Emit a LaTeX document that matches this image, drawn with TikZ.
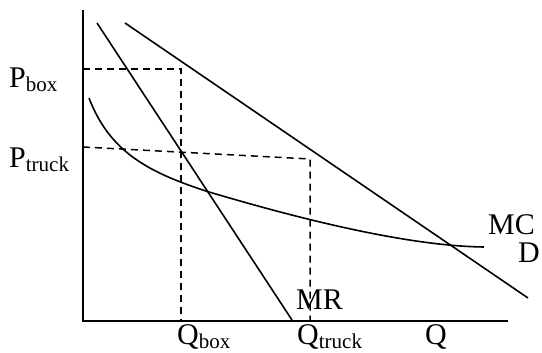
\documentclass[tikz,border=0pt]{standalone}
\usepackage{fontspec}
\setmainfont{Liberation Serif}
\usetikzlibrary{positioning}

\newcommand{\sublbl}[2]{#1\raisebox{-4pt}{\fontsize{21}{23}\selectfont #2}}

\begin{document}
\begin{tikzpicture}[x=1pt,y=1pt,
    curve/.style={line width=1.6pt},
    guide/.style={line width=1.5pt, dash pattern=on 7pt off 5pt},
    lbl/.style={inner sep=0pt, font=\fontsize{30}{33}\selectfont}]
        \useasboundingbox (0,0) rectangle (542,353);
        
        % axes
        \coordinate (top) at (83,343);
        \coordinate (o) at (83,32);
        \coordinate (right) at (508,32);
        \draw[curve] (top) -- (o) -- (right);
        
        % demand and marginal revenue
        \coordinate (mr1) at (97,330);
        \coordinate (mr2) at (292,33);
        \coordinate (d1) at (125,330);
        \coordinate (d2) at (528,55);
        \draw[curve] (mr1) -- (mr2);
        \draw[curve] (d1) -- (d2);
        
        % marginal cost
        \coordinate (mc1) at (89,255);
        \coordinate (mc2) at (209,161);
        \coordinate (mc3) at (484,106);
        \draw[curve] (mc1) .. controls (110,200) and (150,180) .. (mc2)
            .. controls (280,140) and (400,107) .. (mc3);
        
        % box and truck levels
        \coordinate (pb) at (83,284);
        \coordinate (qb) at (181,284);
        \coordinate (qbx) at (181,32);
        \coordinate (pt) at (83,206);
        \coordinate (qt) at (310,194);
        \coordinate (qtx) at (310,32);
        \draw[guide] (pb) -- (qb) -- (qbx);
        \draw[guide] (pt) -- (qt) -- (qtx);
        
        % labels
        \node[lbl, anchor=base west] (Pbox) at (9,265) {\sublbl{P}{box}};
        \node[lbl, anchor=base west] (Ptruck) at (9,185) {\sublbl{P}{truck}};
        \node[lbl, anchor=base west] (Qbox) at (177,8) {\sublbl{Q}{box}};
        \node[lbl, anchor=base west] (Qtruck) at (297,8) {\sublbl{Q}{truck}};
        \node[lbl, anchor=base west] (Q) at (425,8) {Q};
        \node[lbl, anchor=base west] (MR) at (296,43) {MR};
        \node[lbl, anchor=base west, text depth=0pt] (MC) at (488,118) {MC};
        \node[lbl, anchor=base west] (D) at (518,90) {D};
    \end{tikzpicture}
\end{document}
